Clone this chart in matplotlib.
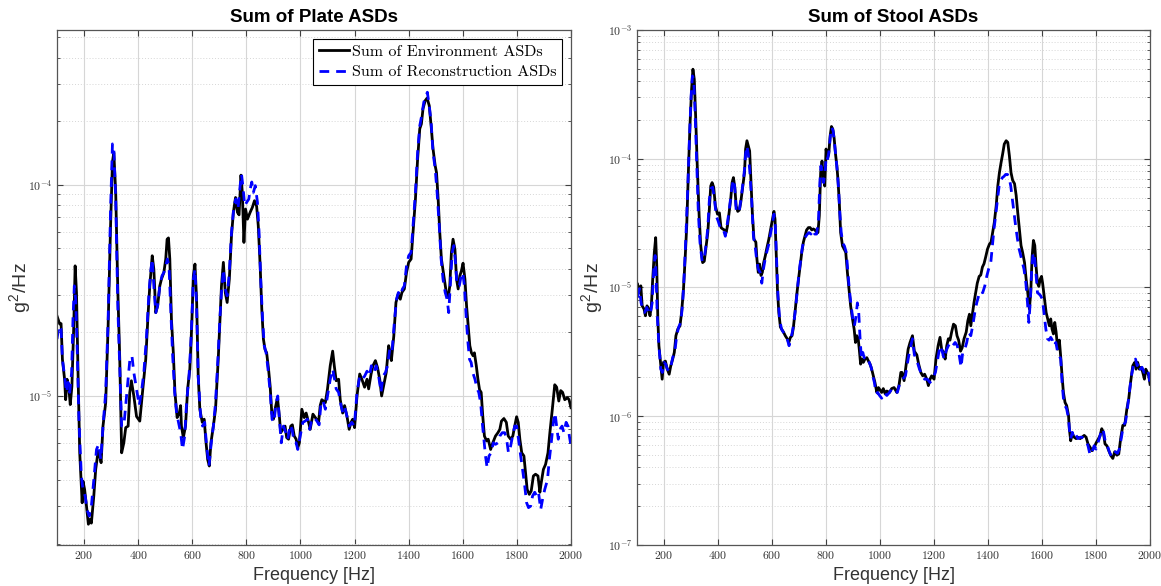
import numpy as np
import matplotlib
matplotlib.use("Agg")
import matplotlib.pyplot as plt
from matplotlib.ticker import FixedLocator, FuncFormatter, NullFormatter

plt.rcParams['mathtext.fontset'] = 'cm'
plt.rcParams['font.family'] = ['Liberation Sans', 'DejaVu Sans']

# (frequency Hz, g^2/Hz)
plate_env = [(100, 2.39e-5), (110, 2.19e-5), (115, 2.2e-5), (120, 1.49e-5), (128, 1.2e-5), (132, 9.6e-6),
             (137, 1.2e-5), (144, 1.08e-5), (149, 9.1e-6), (155, 1.11e-5), (162, 2.15e-5), (167, 4.13e-5),
             (172, 3.09e-5), (178, 1.24e-5), (184, 5.38e-6), (193, 3.12e-6), (196, 3.95e-6), (202, 3.61e-6),
             (209, 3.01e-6), (216, 2.47e-6), (221, 2.6e-6), (227, 2.5e-6), (236, 3.36e-6), (243, 4.49e-6),
             (252, 5.48e-6), (258, 5.2e-6), (263, 4.83e-6), (270, 7.2e-6), (280, 9.3e-6), (289, 2.15e-5),
             (298, 6.4e-5), (305, 1.28e-4), (310, 1.42e-4), (317, 9.2e-5), (325, 3.09e-5), (332, 1.49e-5),
             (339, 5.38e-6), (347, 6.0e-6), (354, 7.08e-6), (363, 7.2e-6), (369, 1.04e-5), (375, 1.18e-5),
             (384, 1.0e-5), (394, 8.0e-6), (406, 7.6e-6), (416, 1.04e-5), (428, 1.49e-5), (437, 2.48e-5),
             (443, 3.32e-5), (452, 4.61e-5), (458, 3.98e-5), (465, 2.48e-5), (472, 2.67e-5), (480, 3.32e-5),
             (486, 3.57e-5), (495, 3.84e-5), (502, 4.45e-5), (507, 5.52e-5), (512, 5.6e-5), (517, 4.45e-5),
             (523, 2.31e-5), (530, 1.6e-5), (536, 1.04e-5), (544, 7.9e-6), (552, 8.3e-6), (557, 9.0e-6),
             (560, 7.2e-6), (567, 6.35e-6), (575, 7.2e-6), (583, 1.08e-5), (591, 1.34e-5), (598, 2.15e-5),
             (604, 3.7e-5), (610, 4.21e-5), (616, 2.87e-5), (622, 1.24e-5), (628, 8.65e-6), (637, 7.5e-6),
             (644, 7.76e-6), (651, 6.0e-6), (657, 5.0e-6), (663, 4.66e-6), (669, 6.0e-6), (678, 7.2e-6),
             (686, 8.65e-6), (696, 1.49e-5), (702, 2.23e-5), (708, 3.32e-5), (715, 4.29e-5), (722, 3.09e-5),
             (729, 2.77e-5), (737, 3.57e-5), (745, 5.73e-5), (752, 7.4e-5), (760, 8.7e-5), (767, 7.4e-5),
             (773, 7.2e-5), (780, 1.11e-4), (785, 9.2e-5), (791, 5.33e-5), (797, 7.67e-5), (804, 6.87e-5),
             (814, 7.4e-5), (822, 7.8e-5), (830, 8.4e-5), (838, 7.9e-5), (844, 6.4e-5), (851, 4.13e-5),
             (857, 2.58e-5), (863, 1.86e-5), (869, 1.66e-5), (875, 1.6e-5), (882, 1.34e-5), (888, 1.11e-5),
             (894, 8.3e-6), (900, 7.76e-6), (906, 8.65e-6), (915, 9.8e-6), (922, 8.0e-6), (927, 6.7e-6),
             (935, 6.95e-6), (943, 7.2e-6), (949, 6.35e-6), (956, 6.24e-6), (964, 7.2e-6), (970, 7.3e-6),
             (977, 6.46e-6), (984, 6.24e-6), (990, 5.69e-6), (996, 6.0e-6), (1005, 8.65e-6), (1014, 7.9e-6),
             (1021, 8.3e-6), (1030, 7.5e-6), (1036, 6.95e-6), (1046, 8.2e-6), (1055, 7.9e-6), (1067, 7.5e-6),
             (1073, 9.0e-6), (1079, 9.6e-6), (1092, 9.3e-6), (1100, 1.08e-5), (1110, 1.39e-5), (1119, 1.63e-5),
             (1125, 1.39e-5), (1132, 1.18e-5), (1141, 1.2e-5), (1147, 9.6e-6), (1156, 8.3e-6), (1163, 9.0e-6),
             (1172, 8.0e-6), (1180, 6.95e-6), (1187, 7.5e-6), (1193, 7.76e-6), (1200, 7.08e-6), (1209, 1.0e-5),
             (1219, 1.27e-5), (1227, 1.2e-5), (1237, 1.1e-5), (1246, 1.2e-5), (1252, 1.08e-5), (1261, 1.27e-5),
             (1268, 1.39e-5), (1277, 1.47e-5), (1285, 1.36e-5), (1293, 1.2e-5), (1300, 1.0e-5), (1308, 1.13e-5),
             (1317, 1.29e-5), (1326, 1.73e-5), (1332, 1.6e-5), (1336, 1.47e-5), (1345, 1.92e-5), (1353, 2.77e-5),
             (1361, 3.03e-5), (1369, 2.87e-5), (1375, 3.09e-5), (1384, 3.21e-5), (1392, 3.84e-5), (1400, 4.29e-5),
             (1409, 4.45e-5), (1416, 5.94e-5), (1425, 8.55e-5), (1433, 1.32e-4), (1441, 1.84e-4), (1447, 1.94e-4),
             (1453, 2.29e-4), (1461, 2.5e-4), (1468, 2.57e-4), (1476, 2.37e-4), (1483, 1.9e-4), (1490, 1.48e-4),
             (1498, 1.23e-4), (1503, 1.14e-4), (1509, 8.55e-5), (1515, 5.94e-5), (1521, 4.45e-5), (1530, 3.7e-5),
             (1539, 3.09e-5), (1546, 2.92e-5), (1552, 3.32e-5), (1558, 4.78e-5), (1564, 5.52e-5), (1571, 4.95e-5),
             (1577, 3.57e-5), (1583, 3.21e-5), (1589, 3.7e-5), (1595, 3.91e-5), (1601, 4.25e-5), (1608, 3.57e-5),
             (1614, 2.67e-5), (1620, 2.15e-5), (1626, 1.73e-5), (1632, 1.6e-5), (1638, 1.55e-5), (1643, 1.6e-5),
             (1650, 1.39e-5), (1656, 1.2e-5), (1662, 1.07e-5), (1668, 1.04e-5), (1674, 8.0e-6), (1680, 6.46e-6),
             (1688, 6.12e-6), (1694, 6.24e-6), (1703, 5.58e-6), (1711, 6.0e-6), (1721, 6.46e-6), (1730, 6.7e-6),
             (1737, 6.95e-6), (1743, 7.6e-6), (1752, 7.82e-6), (1761, 7.5e-6), (1768, 6.46e-6), (1777, 6.24e-6),
             (1785, 6.46e-6), (1792, 7.2e-6), (1799, 7.97e-6), (1805, 7.5e-6), (1811, 6.24e-6), (1818, 5.38e-6),
             (1826, 5.2e-6), (1832, 4.34e-6), (1838, 3.61e-6), (1846, 3.42e-6), (1853, 3.55e-6), (1861, 4.18e-6),
             (1869, 4.26e-6), (1878, 4.18e-6), (1885, 3.5e-6), (1890, 3.88e-6), (1898, 4.49e-6), (1906, 4.74e-6),
             (1915, 5.38e-6), (1922, 6.7e-6), (1931, 8.65e-6), (1940, 1.13e-5), (1947, 1.1e-5), (1955, 9.46e-6),
             (1962, 1.06e-5), (1969, 1.04e-5), (1977, 9.6e-6), (1987, 9.8e-6), (1993, 9.6e-6), (2000, 8.8e-6)]

plate_rec = [(100, 1.86e-5), (107, 2.15e-5), (115, 2.07e-5), (120, 1.49e-5), (128, 1.24e-5), (135, 1.04e-5),
             (141, 1.16e-5), (147, 1.04e-5), (154, 1.29e-5), (159, 2.31e-5), (164, 3.32e-5), (169, 2.87e-5),
             (175, 1.6e-5), (181, 7.76e-6), (190, 4.18e-6), (196, 3.61e-6), (204, 3.36e-6), (211, 2.9e-6),
             (219, 2.7e-6), (227, 3.0e-6), (236, 4.0e-6), (246, 5.58e-6), (254, 5.9e-6), (262, 5.0e-6),
             (270, 7.2e-6), (280, 1.04e-5), (289, 2.31e-5), (298, 7.67e-5), (305, 1.56e-4), (310, 1.48e-4),
             (317, 8.55e-5), (325, 2.58e-5), (332, 1.34e-5), (339, 7.2e-6), (347, 7.2e-6), (354, 9.0e-6),
             (363, 1.2e-5), (369, 1.47e-5), (377, 1.55e-5), (384, 1.29e-5), (394, 1.08e-5), (404, 9.0e-6),
             (412, 1.04e-5), (421, 1.29e-5), (431, 1.92e-5), (440, 3.09e-5), (446, 3.84e-5), (452, 4.45e-5),
             (458, 3.32e-5), (465, 2.48e-5), (472, 2.67e-5), (480, 3.32e-5), (488, 3.7e-5), (495, 3.84e-5),
             (502, 4.13e-5), (508, 4.45e-5), (514, 4.13e-5), (521, 2.48e-5), (527, 1.6e-5), (535, 1.04e-5),
             (542, 8.3e-6), (549, 7.5e-6), (557, 6.7e-6), (564, 5.58e-6), (572, 6.46e-6), (579, 9.3e-6),
             (588, 1.24e-5), (596, 1.92e-5), (604, 3.57e-5), (610, 3.98e-5), (616, 2.67e-5), (622, 1.24e-5),
             (631, 8.0e-6), (638, 7.2e-6), (646, 7.5e-6), (653, 5.8e-6), (662, 4.66e-6), (669, 5.8e-6),
             (678, 7.2e-6), (686, 9.3e-6), (696, 1.6e-5), (702, 2.31e-5), (708, 3.09e-5), (715, 3.98e-5),
             (722, 3.21e-5), (729, 2.98e-5), (737, 3.84e-5), (745, 5.94e-5), (754, 7.95e-5), (761, 8.55e-5),
             (769, 7.67e-5), (777, 9.9e-5), (782, 1.12e-4), (787, 9.9e-5), (794, 7.95e-5), (801, 8.25e-5),
             (809, 8.55e-5), (814, 9.5e-5), (820, 1.03e-4), (826, 9.2e-5), (833, 9.9e-5), (841, 8.25e-5),
             (847, 5.94e-5), (853, 3.57e-5), (860, 2.31e-5), (866, 1.73e-5), (873, 1.6e-5), (880, 1.34e-5),
             (888, 1.04e-5), (895, 7.76e-6), (902, 7.5e-6), (910, 9.3e-6), (916, 1.0e-5), (922, 7.76e-6),
             (929, 6.0e-6), (937, 7.2e-6), (946, 6.7e-6), (953, 6.24e-6), (962, 7.3e-6), (969, 6.95e-6),
             (977, 6.0e-6), (984, 6.0e-6), (990, 5.58e-6), (999, 6.46e-6), (1009, 7.5e-6), (1017, 7.6e-6),
             (1026, 7.76e-6), (1034, 6.95e-6), (1042, 7.76e-6), (1051, 7.9e-6), (1061, 7.6e-6), (1069, 7.3e-6),
             (1076, 9.3e-6), (1083, 9.5e-6), (1092, 8.65e-6), (1100, 1.0e-5), (1110, 1.2e-5), (1119, 1.34e-5),
             (1126, 1.2e-5), (1132, 1.08e-5), (1141, 1.04e-5), (1150, 9.0e-6), (1157, 8.3e-6), (1164, 8.8e-6),
             (1172, 8.0e-6), (1180, 7.2e-6), (1190, 7.5e-6), (1199, 7.2e-6), (1209, 1.04e-5), (1219, 1.24e-5),
             (1227, 1.2e-5), (1237, 1.24e-5), (1246, 1.31e-5), (1255, 1.24e-5), (1262, 1.39e-5), (1271, 1.29e-5),
             (1280, 1.39e-5), (1289, 1.24e-5), (1298, 1.04e-5), (1305, 1.24e-5), (1314, 1.29e-5), (1322, 1.39e-5),
             (1330, 1.66e-5), (1338, 1.6e-5), (1347, 2.23e-5), (1355, 2.87e-5), (1362, 3.09e-5), (1369, 2.98e-5),
             (1377, 3.21e-5), (1384, 3.32e-5), (1392, 4.13e-5), (1400, 4.61e-5), (1409, 4.78e-5), (1416, 6.4e-5),
             (1425, 9.2e-5), (1433, 1.42e-4), (1441, 1.9e-4), (1448, 2.12e-4), (1456, 2.46e-4), (1463, 2.6e-4),
             (1469, 2.74e-4), (1476, 2.37e-4), (1483, 1.97e-4), (1490, 1.42e-4), (1498, 1.19e-4), (1505, 9.2e-5),
             (1513, 6.4e-5), (1520, 4.45e-5), (1527, 3.57e-5), (1535, 3.09e-5), (1542, 2.87e-5), (1548, 2.48e-5),
             (1555, 3.57e-5), (1561, 4.78e-5), (1567, 5.15e-5), (1573, 4.29e-5), (1579, 3.32e-5), (1587, 3.32e-5),
             (1594, 3.7e-5), (1600, 3.84e-5), (1606, 3.32e-5), (1613, 2.31e-5), (1619, 1.8e-5), (1625, 1.49e-5),
             (1631, 1.44e-5), (1637, 1.29e-5), (1645, 1.2e-5), (1653, 1.08e-5), (1659, 1.04e-5), (1666, 9.3e-6),
             (1672, 7.5e-6), (1678, 6.24e-6), (1684, 5.2e-6), (1690, 4.57e-6), (1697, 5.2e-6), (1705, 5.38e-6),
             (1713, 6.0e-6), (1721, 5.9e-6), (1730, 6.0e-6), (1737, 6.46e-6), (1746, 6.7e-6), (1755, 6.7e-6),
             (1762, 6.24e-6), (1769, 5.38e-6), (1777, 5.8e-6), (1784, 6.46e-6), (1792, 7.2e-6), (1799, 7.2e-6),
             (1806, 6.24e-6), (1814, 5.2e-6), (1821, 4.49e-6), (1829, 3.75e-6), (1836, 3.12e-6), (1843, 2.96e-6),
             (1851, 3.01e-6), (1858, 3.36e-6), (1866, 3.5e-6), (1873, 3.36e-6), (1880, 3.5e-6), (1888, 2.9e-6),
             (1895, 3.24e-6), (1903, 3.61e-6), (1913, 4.0e-6), (1920, 5.0e-6), (1927, 6.0e-6), (1935, 7.5e-6),
             (1941, 8.3e-6), (1947, 7.2e-6), (1953, 6.24e-6), (1959, 6.95e-6), (1967, 7.2e-6), (1974, 6.7e-6),
             (1982, 7.5e-6), (1989, 7.2e-6), (1994, 6.46e-6), (2000, 5.8e-6)]

stool_env = [(102, 1.06e-5), (109, 9.1e-6), (114, 1.03e-5), (119, 7.2e-6), (126, 6.8e-6), (131, 6.03e-6),
             (137, 7.2e-6), (143, 6.8e-6), (148, 6.03e-6), (153, 7.2e-6), (158, 1.16e-5), (164, 1.87e-5),
             (169, 2.44e-5), (173, 1.47e-5), (177, 5.68e-6), (181, 3.53e-6), (188, 2.47e-6), (193, 1.94e-6),
             (198, 2.62e-6), (205, 2.68e-6), (212, 2.32e-6), (219, 2.12e-6), (225, 2.47e-6), (232, 2.78e-6),
             (238, 3.13e-6), (244, 4.22e-6), (251, 4.75e-6), (259, 5.04e-6), (265, 6.4e-6), (272, 9.7e-6),
             (278, 1.66e-5), (284, 3.01e-5), (290, 7.8e-5), (296, 1.8e-4), (302, 3.47e-4), (307, 4.96e-4),
             (312, 4.14e-4), (317, 2.15e-4), (323, 8.8e-5), (330, 3.6e-5), (336, 2.1e-5), (343, 1.56e-5),
             (349, 1.6e-5), (356, 2.1e-5), (362, 2.67e-5), (367, 3.82e-5), (373, 6.15e-5), (378, 6.53e-5),
             (384, 6.0e-5), (390, 4.3e-5), (398, 3.71e-5), (405, 3.8e-5), (411, 2.92e-5), (417, 2.85e-5),
             (423, 2.8e-5), (430, 2.67e-5), (435, 3.01e-5), (441, 3.8e-5), (447, 4.86e-5), (452, 6.53e-5),
             (457, 7.14e-5), (462, 6.0e-5), (467, 4.3e-5), (473, 3.9e-5), (479, 4.0e-5), (484, 4.57e-5),
             (491, 6.0e-5), (498, 7.8e-5), (502, 1.19e-4), (507, 1.38e-4), (512, 1.26e-4), (517, 1.15e-4),
             (522, 6.53e-5), (527, 3.8e-5), (533, 2.37e-5), (540, 2.25e-5), (544, 1.66e-5), (549, 1.31e-5),
             (554, 1.52e-5), (559, 1.24e-5), (564, 1.31e-5), (569, 1.56e-5), (575, 1.76e-5), (580, 1.99e-5),
             (588, 2.37e-5), (595, 2.85e-5), (602, 3.39e-5), (607, 3.9e-5), (611, 3.39e-5), (615, 1.99e-5),
             (620, 9.7e-6), (625, 6.4e-6), (631, 4.92e-6), (637, 4.7e-6), (643, 4.48e-6), (649, 4.22e-6),
             (656, 4.0e-6), (662, 3.74e-6), (668, 4.1e-6), (674, 4.22e-6), (679, 4.9e-6), (685, 6.4e-6),
             (691, 8.6e-6), (698, 1.16e-5), (704, 1.47e-5), (710, 1.87e-5), (716, 2.25e-5), (722, 2.52e-5),
             (728, 2.8e-5), (735, 2.92e-5), (741, 2.92e-5), (747, 2.8e-5), (753, 2.85e-5), (759, 2.8e-5),
             (765, 2.67e-5), (770, 2.67e-5), (775, 3.6e-5), (780, 7.8e-5), (785, 9.6e-5), (790, 7.3e-5),
             (795, 6.14e-5), (800, 1.19e-4), (805, 1.0e-4), (810, 1.09e-4), (815, 1.5e-4), (820, 1.78e-4),
             (825, 1.7e-4), (830, 1.44e-4), (835, 1.09e-4), (840, 8.8e-5), (844, 6.93e-5), (849, 4.57e-5),
             (854, 2.67e-5), (861, 2.1e-5), (867, 1.99e-5), (873, 1.87e-5), (879, 1.31e-5), (885, 9.7e-6),
             (891, 7.2e-6), (898, 5.68e-6), (904, 4.75e-6), (909, 3.74e-6), (914, 4.22e-6), (919, 4.0e-6),
             (923, 3.32e-6), (928, 2.54e-6), (933, 2.78e-6), (938, 2.62e-6), (944, 2.78e-6), (951, 2.85e-6),
             (957, 2.68e-6), (963, 2.54e-6), (969, 2.32e-6), (975, 2.06e-6), (981, 1.83e-6), (988, 1.53e-6),
             (994, 1.67e-6), (1000, 1.6e-6), (1006, 1.53e-6), (1012, 1.64e-6), (1019, 1.49e-6), (1025, 1.57e-6),
             (1035, 1.53e-6), (1043, 1.64e-6), (1052, 1.67e-6), (1062, 1.53e-6), (1070, 1.73e-6), (1077, 2.19e-6),
             (1081, 2.19e-6), (1089, 1.89e-6), (1096, 2.47e-6), (1104, 3.32e-6), (1111, 3.74e-6), (1120, 4.22e-6),
             (1127, 3.2e-6), (1136, 3.0e-6), (1143, 2.54e-6), (1151, 2.19e-6), (1158, 2.06e-6), (1165, 2.12e-6),
             (1173, 1.94e-6), (1179, 1.73e-6), (1185, 1.94e-6), (1191, 2.06e-6), (1200, 1.94e-6), (1207, 2.78e-6),
             (1215, 3.53e-6), (1222, 4.1e-6), (1228, 3.32e-6), (1235, 3.13e-6), (1241, 2.78e-6), (1247, 3.53e-6),
             (1253, 4.0e-6), (1259, 3.9e-6), (1265, 4.5e-6), (1272, 5.19e-6), (1279, 5.04e-6), (1285, 4.22e-6),
             (1291, 3.9e-6), (1298, 3.2e-6), (1304, 3.4e-6), (1311, 4.0e-6), (1319, 4.5e-6), (1325, 5.5e-6),
             (1331, 6.2e-6), (1336, 5.04e-6), (1341, 6.0e-6), (1348, 7.66e-6), (1354, 9.1e-6), (1360, 1.08e-5),
             (1367, 1.22e-5), (1373, 1.25e-5), (1379, 1.44e-5), (1385, 1.53e-5), (1391, 1.72e-5), (1398, 1.99e-5),
             (1405, 2.17e-5), (1411, 2.25e-5), (1417, 2.67e-5), (1423, 3.19e-5), (1430, 4.3e-5), (1436, 6.14e-5),
             (1442, 7.8e-5), (1448, 9.3e-5), (1454, 1.09e-4), (1460, 1.3e-4), (1467, 1.38e-4), (1473, 1.34e-4),
             (1479, 1.05e-4), (1485, 7.8e-5), (1491, 6.8e-5), (1498, 6.4e-5), (1504, 5.2e-5), (1510, 3.8e-5),
             (1516, 2.85e-5), (1522, 2.12e-5), (1528, 1.87e-5), (1535, 1.56e-5), (1541, 1.16e-5), (1547, 9.1e-6),
             (1553, 6.8e-6), (1558, 9.1e-6), (1563, 1.72e-5), (1568, 2.32e-5), (1573, 2.12e-5), (1578, 1.44e-5),
             (1583, 1.08e-5), (1588, 1.02e-5), (1593, 1.16e-5), (1598, 1.22e-5), (1602, 1.08e-5), (1609, 8.1e-6),
             (1615, 6.4e-6), (1621, 5.7e-6), (1627, 5.04e-6), (1632, 5.7e-6), (1637, 4.75e-6), (1642, 4.36e-6),
             (1647, 5.35e-6), (1652, 4.5e-6), (1658, 3.32e-6), (1664, 3.9e-6), (1669, 2.9e-6), (1674, 2.06e-6),
             (1679, 1.53e-6), (1685, 1.28e-6), (1691, 1.21e-6), (1698, 1.01e-6), (1701, 8.0e-7), (1706, 6.45e-7),
             (1712, 7.3e-7), (1719, 6.87e-7), (1726, 6.7e-7), (1733, 6.87e-7), (1741, 6.7e-7), (1748, 6.87e-7),
             (1756, 7.1e-7), (1763, 6.87e-7), (1770, 6.1e-7), (1778, 5.73e-7), (1785, 5.4e-7), (1793, 5.73e-7),
             (1800, 6.2e-7), (1809, 6.7e-7), (1815, 7.1e-7), (1821, 8.0e-7), (1827, 7.5e-7), (1833, 6.1e-7),
             (1840, 5.9e-7), (1847, 5.4e-7), (1854, 4.98e-7), (1862, 4.7e-7), (1869, 5.3e-7), (1877, 4.98e-7),
             (1884, 5.1e-7), (1891, 6.7e-7), (1899, 8.5e-7), (1906, 8.5e-7), (1914, 1.14e-6), (1921, 1.37e-6),
             (1928, 1.85e-6), (1936, 2.47e-6), (1943, 2.62e-6), (1948, 2.32e-6), (1954, 2.62e-6), (1960, 2.32e-6),
             (1967, 2.4e-6), (1973, 2.19e-6), (1979, 1.94e-6), (1984, 2.32e-6), (1990, 2.19e-6), (1995, 2.06e-6),
             (2000, 1.77e-6)]

stool_rec = [(102, 8.35e-6), (109, 9.8e-6), (115, 7.6e-6), (121, 6.8e-6), (128, 6.4e-6), (136, 7.0e-6),
             (143, 6.4e-6), (149, 6.2e-6), (156, 7.6e-6), (162, 1.39e-5), (167, 1.77e-5), (170, 1.31e-5),
             (175, 6.0e-6), (181, 3.53e-6), (188, 2.32e-6), (194, 2.19e-6), (200, 2.62e-6), (206, 2.54e-6),
             (212, 2.32e-6), (220, 2.25e-6), (226, 2.47e-6), (232, 2.85e-6), (240, 3.2e-6), (247, 4.22e-6),
             (254, 4.92e-6), (262, 5.35e-6), (269, 7.6e-6), (275, 1.31e-5), (281, 2.5e-5), (288, 6.0e-5),
             (294, 1.43e-4), (300, 3.0e-4), (305, 4.4e-4), (310, 4.14e-4), (315, 2.28e-4), (321, 9.3e-5),
             (327, 3.8e-5), (333, 2.25e-5), (341, 1.6e-5), (348, 1.64e-5), (356, 2.17e-5), (362, 2.92e-5),
             (368, 4.86e-5), (374, 5.9e-5), (380, 6.0e-5), (387, 4.86e-5), (393, 3.6e-5), (400, 3.3e-5),
             (406, 3.01e-5), (412, 2.8e-5), (420, 2.8e-5), (427, 2.5e-5), (433, 3.01e-5), (440, 3.8e-5),
             (446, 4.86e-5), (452, 6.14e-5), (457, 6.9e-5), (462, 6.0e-5), (467, 4.0e-5), (473, 3.8e-5),
             (479, 4.0e-5), (485, 4.86e-5), (491, 6.14e-5), (498, 8.25e-5), (502, 1.09e-4), (507, 1.26e-4),
             (512, 1.09e-4), (518, 7.8e-5), (525, 4.57e-5), (531, 2.5e-5), (537, 2.12e-5), (543, 1.64e-5),
             (549, 1.39e-5), (556, 1.31e-5), (562, 1.08e-5), (568, 1.39e-5), (574, 1.64e-5), (580, 1.87e-5),
             (588, 2.17e-5), (595, 2.67e-5), (602, 3.19e-5), (607, 3.71e-5), (612, 3.01e-5), (617, 1.64e-5),
             (622, 8.6e-6), (628, 5.68e-6), (635, 4.75e-6), (642, 4.48e-6), (649, 4.22e-6), (656, 4.0e-6),
             (663, 3.53e-6), (669, 4.0e-6), (675, 4.48e-6), (681, 5.35e-6), (688, 7.2e-6), (694, 9.8e-6),
             (700, 1.31e-5), (706, 1.64e-5), (712, 2.04e-5), (719, 2.37e-5), (725, 2.5e-5), (731, 2.6e-5),
             (737, 2.67e-5), (744, 2.6e-5), (751, 2.8e-5), (758, 2.6e-5), (765, 2.6e-5), (772, 3.39e-5),
             (777, 6.53e-5), (781, 8.8e-5), (786, 7.8e-5), (791, 6.53e-5), (796, 7.8e-5), (801, 1.05e-4),
             (806, 1.0e-4), (811, 1.15e-4), (816, 1.5e-4), (821, 1.75e-4), (826, 1.65e-4), (831, 1.34e-4),
             (836, 1.05e-4), (841, 8.25e-5), (846, 6.0e-5), (851, 3.8e-5), (856, 2.7e-5), (862, 2.2e-5),
             (868, 2.1e-5), (875, 1.87e-5), (881, 1.31e-5), (886, 9.7e-6), (893, 7.2e-6), (899, 5.68e-6),
             (905, 5.04e-6), (911, 6.0e-6), (916, 7.6e-6), (921, 6.4e-6), (926, 4.0e-6), (931, 2.78e-6),
             (936, 3.13e-6), (941, 2.85e-6), (948, 2.78e-6), (954, 2.85e-6), (960, 2.62e-6), (967, 2.4e-6),
             (973, 2.06e-6), (979, 1.83e-6), (985, 1.5e-6), (991, 1.53e-6), (998, 1.45e-6), (1006, 1.38e-6),
             (1015, 1.53e-6), (1025, 1.45e-6), (1035, 1.53e-6), (1044, 1.64e-6), (1054, 1.64e-6), (1064, 1.53e-6),
             (1074, 1.83e-6), (1084, 1.94e-6), (1094, 2.06e-6), (1104, 2.78e-6), (1111, 3.32e-6), (1120, 4.0e-6),
             (1127, 3.0e-6), (1136, 2.72e-6), (1146, 2.32e-6), (1156, 2.06e-6), (1165, 1.94e-6), (1175, 1.94e-6),
             (1185, 1.83e-6), (1195, 1.94e-6), (1205, 2.19e-6), (1215, 2.9e-6), (1222, 3.53e-6), (1230, 3.2e-6),
             (1237, 2.78e-6), (1244, 3.2e-6), (1253, 3.53e-6), (1262, 3.74e-6), (1269, 3.53e-6), (1278, 3.74e-6),
             (1286, 3.53e-6), (1294, 2.9e-6), (1300, 2.4e-6), (1306, 3.13e-6), (1314, 3.32e-6), (1321, 3.74e-6),
             (1328, 4.48e-6), (1336, 4.22e-6), (1343, 5.04e-6), (1351, 6.4e-6), (1358, 7.6e-6), (1365, 8.6e-6),
             (1373, 9.4e-6), (1380, 9.1e-6), (1388, 1.03e-5), (1395, 1.22e-5), (1402, 1.39e-5), (1410, 1.56e-5),
             (1416, 2.12e-5), (1422, 2.85e-5), (1428, 3.6e-5), (1435, 4.86e-5), (1441, 6.14e-5), (1447, 6.74e-5),
             (1453, 7.14e-5), (1459, 7.3e-5), (1465, 7.55e-5), (1472, 7.55e-5), (1478, 7.14e-5), (1484, 6.14e-5),
             (1490, 4.86e-5), (1496, 3.8e-5), (1502, 3.01e-5), (1509, 2.37e-5), (1515, 1.99e-5), (1521, 1.77e-5),
             (1527, 1.56e-5), (1533, 1.39e-5), (1540, 1.08e-5), (1546, 7.6e-6), (1551, 5.35e-6), (1556, 7.6e-6),
             (1562, 1.44e-5), (1567, 1.87e-5), (1572, 1.72e-5), (1577, 1.31e-5), (1583, 9.1e-6), (1589, 8.9e-6),
             (1595, 8.6e-6), (1601, 8.1e-6), (1607, 6.4e-6), (1614, 4.75e-6), (1620, 4.0e-6), (1626, 3.9e-6),
             (1632, 4.1e-6), (1638, 3.9e-6), (1644, 3.53e-6), (1651, 3.74e-6), (1657, 3.2e-6), (1663, 3.0e-6),
             (1669, 2.78e-6), (1674, 1.83e-6), (1679, 1.38e-6), (1685, 1.21e-6), (1691, 1.14e-6), (1698, 9.6e-7),
             (1701, 8.0e-7), (1706, 6.7e-7), (1712, 7.5e-7), (1719, 6.7e-7), (1726, 7.1e-7), (1733, 6.7e-7),
             (1741, 6.87e-7), (1748, 6.87e-7), (1756, 6.7e-7), (1763, 6.45e-7), (1770, 5.9e-7), (1778, 4.98e-7),
             (1785, 5.3e-7), (1793, 5.9e-7), (1800, 5.55e-7), (1807, 6.2e-7), (1815, 7.1e-7), (1822, 8.0e-7),
             (1828, 7.5e-7), (1835, 6.2e-7), (1842, 5.9e-7), (1849, 5.3e-7), (1857, 4.85e-7), (1864, 4.85e-7),
             (1872, 5.3e-7), (1879, 5.15e-7), (1886, 5.55e-7), (1894, 6.87e-7), (1901, 8.5e-7), (1909, 9.0e-7),
             (1916, 1.14e-6), (1923, 1.53e-6), (1931, 2.06e-6), (1938, 2.47e-6), (1946, 2.78e-6), (1952, 2.47e-6),
             (1958, 2.62e-6), (1964, 2.32e-6), (1970, 2.4e-6), (1978, 2.19e-6), (1984, 2.25e-6), (1990, 2.32e-6),
             (1995, 2.12e-6), (2000, 1.77e-6)]

titles = ["Sum of Plate ASDs", "Sum of Stool ASDs"]
legend_labels = ["Sum of Environment ASDs", "Sum of Reconstruction ASDs"]
x_ticks = [200, 400, 600, 800, 1000, 1200, 1400, 1600, 1800, 2000]


def style_axes(ax, ylim, decades, label_x):
    ax.set_yscale('log')
    ax.set_xlim(100, 2000)
    ax.set_ylim(*ylim)
    ax.xaxis.set_major_locator(FixedLocator(x_ticks))
    ax.xaxis.set_major_formatter(FuncFormatter(lambda v, p: r'$%d$' % v))
    ax.yaxis.set_major_locator(FixedLocator([10.0 ** d for d in decades]))
    ax.yaxis.set_major_formatter(FuncFormatter(lambda v, p: r'$10^{%d}$' % round(np.log10(v))))
    minors = [m * 10.0 ** d for d in range(decades[0] - 1, decades[-1] + 1) for m in range(2, 10)]
    ax.yaxis.set_minor_locator(FixedLocator(minors))
    ax.yaxis.set_minor_formatter(NullFormatter())
    ax.grid(True, which='major', color='#d6d6d6', lw=0.8)
    ax.grid(True, which='minor', axis='y', color='#d6d6d6', ls=(0, (1, 2)), lw=0.7)
    ax.set_axisbelow(True)
    ax.tick_params(which='both', direction='in', top=True, right=True, labelsize=8.5,
                   color='#404040', labelcolor='#333333')
    ax.tick_params(which='major', length=4)
    ax.tick_params(which='minor', length=2)
    for s in ax.spines.values():
        s.set_color('#555555')
        s.set_linewidth(0.9)
    ax.set_xlabel('Frequency [Hz]', fontsize=13, color='#333333', labelpad=4)
    ax.set_ylabel(r'g$^{\mathregular{2}}$/Hz', fontsize=14, color='#333333')
    ax.yaxis.set_label_coords(label_x, 0.5)


fig = plt.figure(figsize=(11.61, 5.86), dpi=100)
ax1 = fig.add_axes([0.0491, 0.0700, 0.4427, 0.8788])
ax2 = fig.add_axes([0.5487, 0.0700, 0.4419, 0.8788])

panels = [(ax1, plate_env, plate_rec, (1.97e-6, 5.4e-4), [-5, -4], -0.044),
          (ax2, stool_env, stool_rec, (1e-7, 1e-3), [-7, -6, -5, -4, -3], -0.06)]

for i, (ax, env, rec, ylim, decades, label_x) in enumerate(panels):
    fe, ve = np.array(env).T
    fr, vr = np.array(rec).T
    ax.plot(fe, ve, color='black', lw=2.0, label=legend_labels[0])
    ax.plot(fr, vr, color='blue', lw=2.0, ls=(0, (3.5, 2.5)), label=legend_labels[1])
    style_axes(ax, ylim, decades, label_x)
    ax.set_title(titles[i], fontsize=13.5, fontweight='bold', pad=6)

leg = ax1.legend(loc='upper right', prop={'family': 'cmr10', 'size': 11.5}, fancybox=False,
                 framealpha=1, edgecolor='black', handlelength=1.9, handletextpad=0.2,
                 borderpad=0.35, labelspacing=0.4, borderaxespad=0.55)
leg.get_frame().set_linewidth(0.8)

fig.savefig('out.png', dpi=100)
